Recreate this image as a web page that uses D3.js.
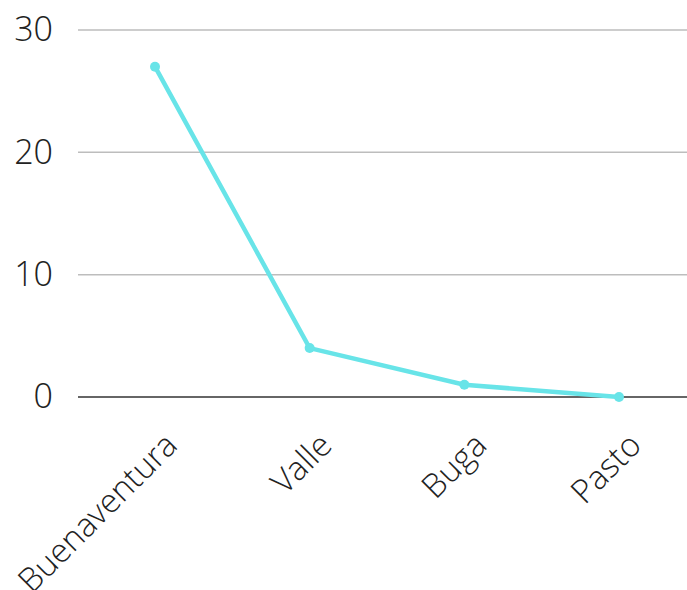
<!DOCTYPE html>
<html>
<head>
<meta charset="utf-8">
<script src="https://cdn.jsdelivr.net/npm/d3@7"></script>
<style>
  body { margin: 0; background: #fff; }
  text { font-family: "Open Sans Light", "Open Sans", sans-serif; font-weight: 300; fill: #222; }
</style>
</head>
<body>
<div class="chart"></div>
<script>
const categories = ["Buenaventura", "Valle", "Buga", "Pasto"];
const values = [27, 4, 1, 0];
const yTicks = [0, 10, 20, 30];

const width = 687;
const height = 590;
const margin = { top: 30, right: 0, bottom: 193, left: 78 };

const svg = d3.select(".chart")
    .append("svg")
    .attr("width", width)
    .attr("height", height);

const x = d3.scalePoint()
    .domain(categories)
    .range([155, 619]);

const y = d3.scaleLinear()
    .domain([0, 30])
    .range([height - margin.bottom, margin.top]);

// grid
svg.append("g")
    .selectAll("line")
    .data(yTicks)
    .enter()
    .append("line")
    .attr("x1", margin.left)
    .attr("x2", width)
    .attr("y1", d => y(d))
    .attr("y2", d => y(d))
    .attr("stroke", d => d === 0 ? "#666" : "#bdbdbd")
    .attr("stroke-width", d => d === 0 ? 2 : 1.5);

// y labels
const yAxis = svg.append("g")
    .attr("transform", `translate(${margin.left - 25},0)`)
    .call(d3.axisLeft(y).tickValues(yTicks).tickSize(0).tickPadding(0));
yAxis.select(".domain").remove();
yAxis.selectAll("text")
    .style("font-size", "34px")
    .style("font-family", "'Open Sans Light', 'Open Sans'")
    .style("font-weight", 300)
    .attr("fill", "#222");

// x labels
svg.append("g")
    .selectAll("text")
    .data(categories)
    .enter()
    .append("text")
    .attr("transform", d => `translate(${x(d) + 16},${y(0) + 42}) rotate(-45)`)
    .attr("text-anchor", "end")
    .attr("dy", "0.35em")
    .style("font-size", "33px")
    .text(d => d);

// line
const line = d3.line()
    .x((d, i) => x(categories[i]))
    .y(d => y(d));

svg.append("path")
    .datum(values)
    .attr("d", line)
    .attr("fill", "none")
    .attr("stroke", "#68e4e8")
    .attr("stroke-width", 4.5);

svg.append("g")
    .selectAll("circle")
    .data(values)
    .enter()
    .append("circle")
    .attr("cx", (d, i) => x(categories[i]))
    .attr("cy", d => y(d))
    .attr("r", 5)
    .attr("fill", "#68e4e8");
</script>
</body>
</html>
